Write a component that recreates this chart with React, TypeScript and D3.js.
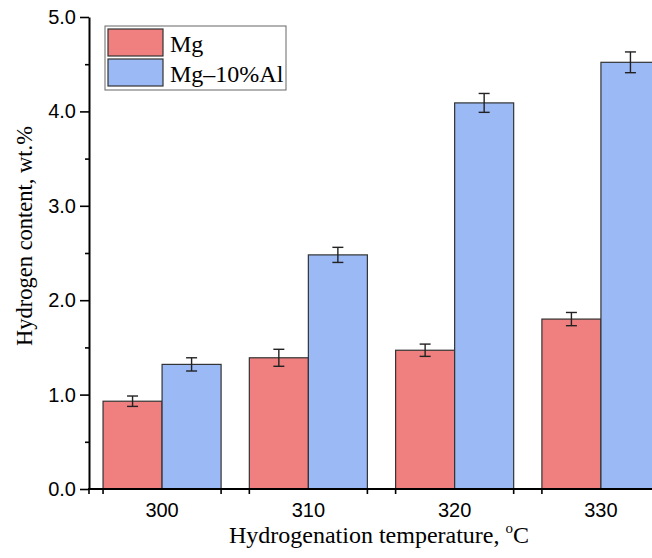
import React, { useRef, useEffect } from 'react';
import * as d3 from 'd3';

// hydrogenation temperature groups
const categories = ['300', '310', '320', '330'];
const seriesNames = ['Mg', 'Mg–10%Al'];
// hydrogen content, wt.%
const mgValues = [0.93, 1.39, 1.47, 1.8];
const mgErrors = [0.055, 0.09, 0.065, 0.07];
const mgAlValues = [1.32, 2.48, 4.09, 4.52];
const mgAlErrors = [0.07, 0.08, 0.1, 0.11];
const yTicks = [0, 1, 2, 3, 4, 5];
const yMinorTicks = [0.5, 1.5, 2.5, 3.5, 4.5];

const colors = ['#F08080', '#9BB9F5'];
const sans = 'Liberation Sans, Arial, sans-serif';
const serif = 'Liberation Serif, Times New Roman, serif';

const App = () => {
    const svgRef = useRef<SVGSVGElement>(null);

    useEffect(() => {
        const w = 652;
        const h = 558;
        const svg = d3.select(svgRef.current);
        svg.selectAll('*').remove();
        svg.attr('width', w).attr('height', h);

        const x = d3.scaleBand()
            .domain(categories)
            .range([89, 674])
            .paddingInner(0.193)
            .paddingOuter(0.096);
        const xSub = d3.scaleBand()
            .domain(seriesNames)
            .range([0, x.bandwidth()]);
        const y = d3.scaleLinear().domain([0, 5]).range([489, 17]);

        const series = [
            { name: seriesNames[0], values: mgValues, errors: mgErrors, color: colors[0] },
            { name: seriesNames[1], values: mgAlValues, errors: mgAlErrors, color: colors[1] },
        ];

        // bars
        series.forEach(s => {
            svg.append('g')
                .selectAll('rect')
                .data(s.values)
                .join('rect')
                .attr('x', (v, i) => x(categories[i])! + xSub(s.name)!)
                .attr('y', v => y(v))
                .attr('width', xSub.bandwidth())
                .attr('height', v => y(0) - y(v))
                .attr('fill', s.color)
                .attr('stroke', '#333')
                .attr('stroke-width', 1.2);
        });

        // error bars
        series.forEach(s => {
            const g = svg.append('g').attr('stroke', '#222').attr('stroke-width', 1.4);
            s.values.forEach((v, i) => {
                const cx = x(categories[i])! + xSub(s.name)! + xSub.bandwidth() / 2;
                const top = y(v + s.errors[i]);
                const bot = y(v - s.errors[i]);
                g.append('line').attr('x1', cx).attr('x2', cx).attr('y1', top).attr('y2', bot);
                g.append('line').attr('x1', cx - 5.5).attr('x2', cx + 5.5).attr('y1', top).attr('y2', top);
                g.append('line').attr('x1', cx - 5.5).attr('x2', cx + 5.5).attr('y1', bot).attr('y2', bot);
            });
        });

        // y axis
        const yAxis = d3.axisLeft(y)
            .tickValues(yTicks)
            .tickSize(9)
            .tickSizeOuter(0)
            .tickPadding(4)
            .tickFormat(d3.format('.1f'));
        const yg = svg.append('g').attr('transform', 'translate(89,0)').call(yAxis);
        yg.select('.domain').attr('stroke', '#000').attr('stroke-width', 2);
        yg.selectAll('.tick line').attr('stroke', '#000').attr('stroke-width', 1.6);
        yg.selectAll('.tick text')
            .attr('fill', '#000')
            .style('font-family', sans)
            .style('font-size', '20px');
        const ymg = svg.append('g').attr('transform', 'translate(89,0)')
            .call(d3.axisLeft(y).tickValues(yMinorTicks).tickSize(4).tickSizeOuter(0).tickFormat(() => ''));
        ymg.select('.domain').remove();
        ymg.selectAll('.tick line').attr('stroke', '#000').attr('stroke-width', 1.6);

        // x axis
        const xg = svg.append('g');
        xg.append('line')
            .attr('x1', 88).attr('x2', w)
            .attr('y1', y(0)).attr('y2', y(0))
            .attr('stroke', '#000').attr('stroke-width', 2);
        const edges = [89, ...categories.flatMap(c => [x(c)!, x(c)! + x.bandwidth()])];
        xg.selectAll('.xtick')
            .data(edges)
            .join('line')
            .attr('x1', d => d).attr('x2', d => d)
            .attr('y1', y(0)).attr('y2', y(0) + 5)
            .attr('stroke', '#000').attr('stroke-width', 1.6);
        xg.selectAll('text')
            .data(categories)
            .join('text')
            .attr('x', d => x(d)! + x.bandwidth() / 2)
            .attr('y', 517)
            .attr('text-anchor', 'middle')
            .style('font-family', sans)
            .style('font-size', '20px')
            .text(d => d);

        // axis titles
        const xt = svg.append('text')
            .attr('x', 379)
            .attr('y', 543)
            .attr('text-anchor', 'middle')
            .style('font-family', serif)
            .style('font-size', '24px');
        xt.append('tspan').text('Hydrogenation temperature, ');
        xt.append('tspan').attr('dy', -10).style('font-size', '15px').text('o');
        xt.append('tspan').attr('dy', 10).text('C');

        svg.append('text')
            .attr('transform', 'translate(32,236) rotate(-90)')
            .attr('text-anchor', 'middle')
            .style('font-family', serif)
            .style('font-size', '22.5px')
            .text('Hydrogen content, wt.%');

        // legend
        const lg = svg.append('g');
        lg.append('rect')
            .attr('x', 105).attr('y', 26).attr('width', 181).attr('height', 64)
            .attr('fill', '#fff').attr('stroke', '#666').attr('stroke-width', 1);
        series.forEach((s, i) => {
            lg.append('rect')
                .attr('x', 108).attr('y', 29 + i * 30)
                .attr('width', 55).attr('height', 27)
                .attr('fill', s.color).attr('stroke', '#333').attr('stroke-width', 1.2);
            lg.append('text')
                .attr('x', 170).attr('y', 52 + i * 30)
                .style('font-family', serif)
                .style('font-size', '24px')
                .text(s.name);
        });
    }, []);

    return (
        <div>
            <svg ref={svgRef} style={{ position: 'absolute', left: 0, top: 0, display: 'block' }}></svg>
        </div>
    );
};

export default App;
